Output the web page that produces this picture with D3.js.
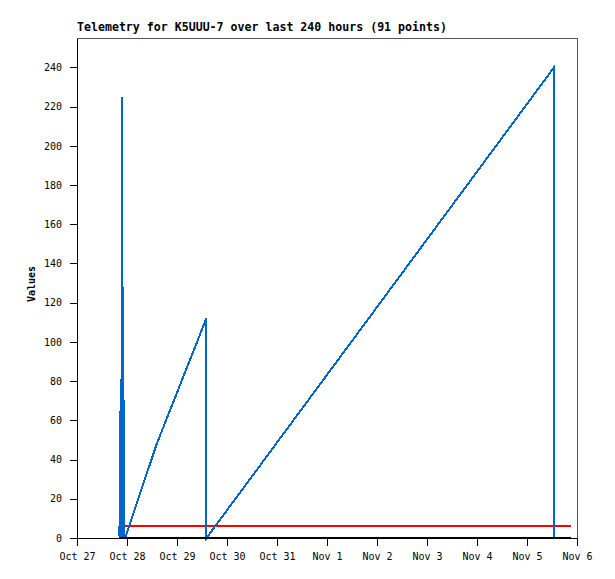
<!DOCTYPE html>
<html>
<head>
<meta charset="utf-8">
<script src="https://cdn.jsdelivr.net/npm/d3@7"></script>
<style>
  body { margin: 0; background: #fff; }
  svg text { font-family: "DejaVu Sans Mono", "Liberation Mono", monospace; }
</style>
</head>
<body>
<svg id="chart" width="615" height="579"></svg>
<script>
// blue telemetry channel (counter that resets)
const blueTimes = [
  '2023-10-27 20:12', '2023-10-27 20:27', '2023-10-27 20:36', '2023-10-27 20:45',
  '2023-10-27 20:50', '2023-10-27 20:57', '2023-10-27 21:06', '2023-10-27 21:12',
  '2023-10-27 21:19', '2023-10-27 21:27', '2023-10-27 21:36', '2023-10-27 21:42',
  '2023-10-27 21:47', '2023-10-27 21:54', '2023-10-27 22:03', '2023-10-27 22:09',
  '2023-10-27 22:16', '2023-10-27 22:24', '2023-10-27 23:06', '2023-10-28 14:16',
  '2023-10-29 14:06', '2023-10-29 14:09', '2023-11-05 12:58', '2023-11-05 13:00',
  '2023-11-05 21:18'
];
const blueValues = [
  6, 0, 60, 0,
  65, 0, 50, 0,
  81, 0, 30, 0,
  225, 0, 60, 0,
  128, 0, 0, 48,
  112, 0, 240, 0,
  0
];

// red channel (flat)
const redTimes = ['2023-10-27 20:12', '2023-11-05 21:18'];
const redValues = [6, 6];

// black channel (flat at zero)
const blackTimes = ['2023-10-27 20:12', '2023-11-05 21:18'];
const blackValues = [0, 0];

const yTicks = [0, 20, 40, 60, 80, 100, 120, 140, 160, 180, 200, 220, 240];
const dayTicks = ['2023-10-27', '2023-10-28', '2023-10-29', '2023-10-30', '2023-10-31',
  '2023-11-01', '2023-11-02', '2023-11-03', '2023-11-04', '2023-11-05', '2023-11-06'];

const titleText = 'Telemetry for K5UUU-7 over last 240 hours (91 points)';

const svg = d3.select('#chart');
const width = +svg.attr('width');
const height = +svg.attr('height');
const margin = { top: 38, right: 38, bottom: 41, left: 77 };
const innerWidth = width - margin.left - margin.right;
const innerHeight = height - margin.top - margin.bottom;

const parseTime = d3.utcParse('%Y-%m-%d %H:%M');
const parseDay = d3.utcParse('%Y-%m-%d');

const x = d3.scaleUtc()
  .domain([parseDay(dayTicks[0]), parseDay(dayTicks[dayTicks.length - 1])])
  .range([0, innerWidth]);
const y = d3.scaleLinear()
  .domain([0, 255])
  .range([innerHeight, 0]);

const g = svg.append('g')
  .attr('transform', `translate(${margin.left},${margin.top})`);

// frame
g.append('rect')
  .attr('x', 0).attr('y', 0)
  .attr('width', innerWidth).attr('height', innerHeight)
  .attr('fill', 'none')
  .attr('stroke', '#555')
  .attr('shape-rendering', 'crispEdges');

// series
const line = d3.line()
  .x(d => x(d.t))
  .y(d => y(d.v));

const series = [
  { times: redTimes, values: redValues, colour: '#ff0000' },
  { times: blueTimes, values: blueValues, colour: '#0066cc' },
  { times: blackTimes, values: blackValues, colour: '#000000' }
];

series.forEach(s => {
  const pts = s.times.map((t, i) => ({ t: parseTime(t), v: s.values[i] }));
  g.append('path')
    .datum(pts)
    .attr('d', line)
    .attr('fill', 'none')
    .attr('stroke', s.colour)
    .attr('stroke-width', 2)
    .attr('shape-rendering', 'crispEdges');
});

// axes
const xAxis = d3.axisBottom(x)
  .tickValues(dayTicks.map(parseDay))
  .tickFormat(d3.utcFormat('%b %-d'))
  .tickSize(8)
  .tickSizeOuter(0)
  .tickPadding(7);
const yAxis = d3.axisLeft(y)
  .tickValues(yTicks)
  .tickSize(7)
  .tickSizeOuter(0)
  .tickPadding(8);

const xg = g.append('g')
  .attr('transform', `translate(0,${innerHeight})`)
  .call(xAxis);
const yg = g.append('g').call(yAxis);

[xg, yg].forEach(a => {
  a.selectAll('text')
    .style('font-family', '"DejaVu Sans Mono", monospace')
    .style('font-size', '10px')
    .attr('fill', '#000');
  a.selectAll('line, path')
    .attr('stroke', '#000')
    .attr('shape-rendering', 'crispEdges');
});

// title
svg.append('text')
  .attr('x', margin.left)
  .attr('y', 31)
  .style('font-size', '11.6px')
  .style('font-weight', 'bold')
  .text(titleText);

// y label
svg.append('text')
  .attr('transform', `translate(35,${margin.top + innerHeight / 2 - 4}) rotate(-90)`)
  .attr('text-anchor', 'middle')
  .style('font-size', '10px')
  .style('font-weight', 'bold')
  .text('Values');
</script>
</body>
</html>
